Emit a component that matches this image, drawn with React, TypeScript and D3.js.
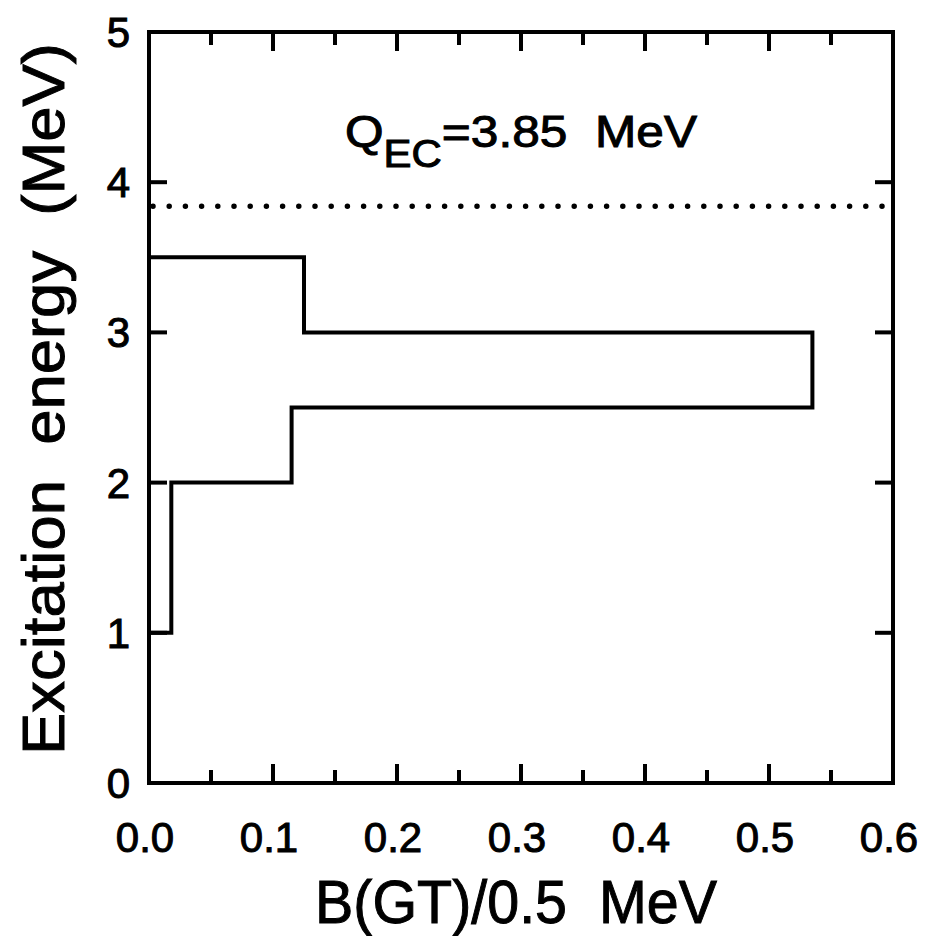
import React from "react";
import * as d3 from "d3";

const binEdges = [1, 2, 2.5, 3, 3.5];
const bgtValues = [0.018, 0.115, 0.535, 0.125];
const qecValue = 3.84;
const qecLabel = "3.85";
const xMajorTicks = [0, 0.1, 0.2, 0.3, 0.4, 0.5, 0.6];
const xMinorTicks = [0.05, 0.15, 0.25, 0.35, 0.45, 0.55];
const yMajorTicks = [0, 1, 2, 3, 4, 5];

const W = 927, H = 936;
const L = 149, R = 893, T = 32, B = 783;
const FONT = "'Liberation Sans', Arial, sans-serif";

export default function App() {
  const x = d3.scaleLinear().domain([0, 0.6]).range([L, R]);
  const y = d3.scaleLinear().domain([0, 5]).range([B, T]);

  const pts: [number, number][] = [[0, binEdges[0]]];
  bgtValues.forEach((v, i) => {
    pts.push([v, binEdges[i]]);
    pts.push([v, binEdges[i + 1]]);
  });
  pts.push([0, binEdges[binEdges.length - 1]]);
  const line = d3.line<[number, number]>().x(d => x(d[0])).y(d => y(d[1]));

  const major = 19, minor = 13, yTick = 18;

  return (
    <svg width={W} height={H} style={{ position: "absolute", left: 0, top: 0, background: "#fff" }}>
      <rect x={0} y={0} width={W} height={H} fill="#fff" />
      {/* frame */}
      <rect x={L} y={T} width={R - L} height={B - T} fill="none" stroke="#000" strokeWidth={4} />
      {/* x ticks bottom & top */}
      {xMajorTicks.map(t => (
        <g key={"xm" + t}>
          <line x1={x(t)} x2={x(t)} y1={B} y2={B - major} stroke="#000" strokeWidth={4} />
          <line x1={x(t)} x2={x(t)} y1={T} y2={T + major} stroke="#000" strokeWidth={4} />
          <text x={x(t) - 4} y={852} textAnchor="middle" fontFamily={FONT} fontSize={42} stroke="#000" strokeWidth={1}>
            {d3.format(".1f")(t)}
          </text>
        </g>
      ))}
      {xMinorTicks.map(t => (
        <g key={"xn" + t}>
          <line x1={x(t)} x2={x(t)} y1={B} y2={B - minor} stroke="#000" strokeWidth={4} />
          <line x1={x(t)} x2={x(t)} y1={T} y2={T + minor} stroke="#000" strokeWidth={4} />
        </g>
      ))}
      {/* y ticks */}
      {yMajorTicks.map(t => (
        <g key={"y" + t}>
          <line x1={L} x2={L + yTick} y1={y(t)} y2={y(t)} stroke="#000" strokeWidth={4} />
          <line x1={R} x2={R - yTick} y1={y(t)} y2={y(t)} stroke="#000" strokeWidth={4} />
          <text x={130} y={y(t) + 15} textAnchor="end" fontFamily={FONT} fontSize={42} stroke="#000" strokeWidth={1}>
            {t}
          </text>
        </g>
      ))}
      {/* histogram */}
      <path d={line(pts) || ""} fill="none" stroke="#000" strokeWidth={4} strokeLinejoin="miter" />
      {/* Q_EC dotted line */}
      <line x1={x(0) + 4} x2={x(0.594)} y1={y(qecValue)} y2={y(qecValue)} stroke="#000" strokeWidth={5.5}
        strokeDasharray="0 16.2" strokeLinecap="round" />
      {/* Q_EC label */}
      <text x={345} y={147} fontFamily={FONT} fontSize={45} stroke="#000" strokeWidth={1}
        textLength={352} lengthAdjust="spacingAndGlyphs">
        Q
        <tspan fontSize={38} dy={20}>EC</tspan>
        <tspan fontSize={45} dy={-20}>={qecLabel}{"\u00a0\u00a0"}MeV</tspan>
      </text>
      {/* axis titles */}
      <text x={315} y={923} fontFamily={FONT} fontSize={62} textLength={402} lengthAdjust="spacingAndGlyphs"
        stroke="#000" strokeWidth={1}>
        B(GT)/0.5{"\u00a0\u00a0"}MeV
      </text>
      <text transform={`translate(64,755) rotate(-90)`} fontFamily={FONT} fontSize={60} textLength={712}
        lengthAdjust="spacingAndGlyphs" stroke="#000" strokeWidth={1}>
        Excitation{"\u00a0\u00a0"}energy{"\u00a0\u00a0"}(MeV)
      </text>
    </svg>
  );
}
